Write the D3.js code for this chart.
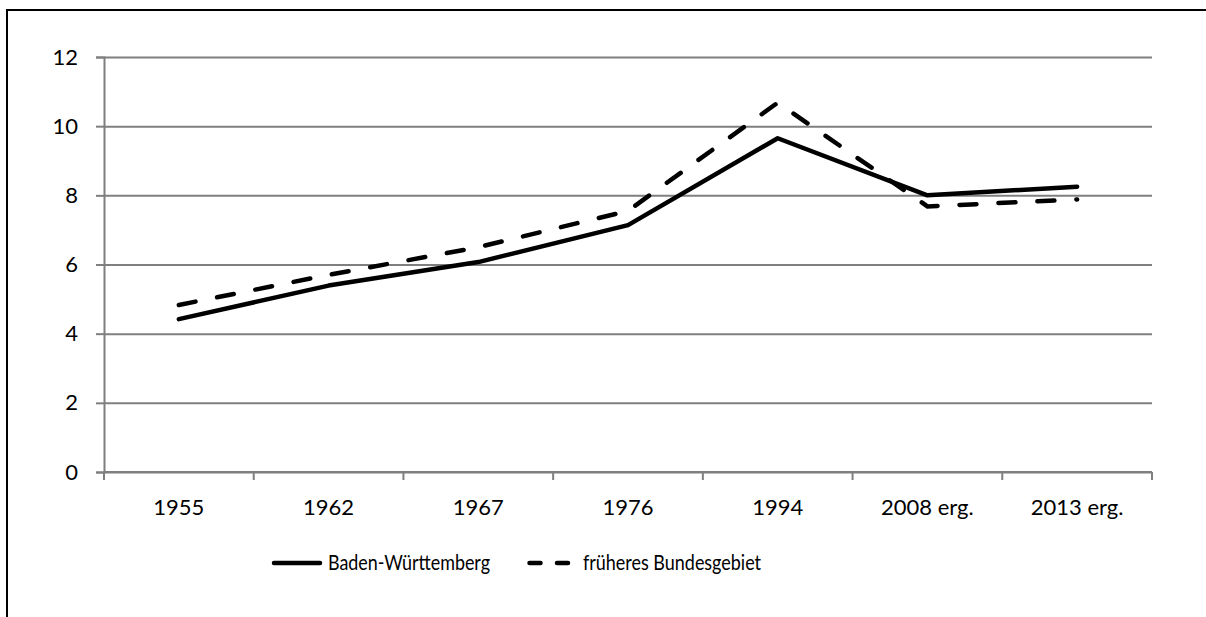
<!DOCTYPE html>
<html>
<head>
<meta charset="utf-8">
<script src="https://cdn.jsdelivr.net/npm/d3@7"></script>
<style>
  body { margin: 0; background: #fff; }
  svg text { font-family: Lato, "Open Sans", sans-serif; fill: #000; }
</style>
</head>
<body>
<svg class="chart" width="1206" height="617"></svg>
<script>
const categories = ['1955', '1962', '1967', '1976', '1994', '2008 erg.', '2013 erg.'];
const badenWuerttemberg = [4.42, 5.39, 6.07, 7.14, 9.65, 8.0, 8.25];
const fruehBundesgebiet = [4.83, 5.7, 6.5, 7.55, 10.68, 7.68, 7.88];
const yTicks = [0, 2, 4, 6, 8, 10, 12];
const seriesNames = ['Baden-Württemberg', 'früheres Bundesgebiet'];

const svg = d3.select('.chart');
const plotLeft = 104, plotRight = 1152, plotTop = 57, plotBottom = 472;

// frame (only top and left edge visible)
svg.append('line').attr('x1', 7).attr('x2', 1206).attr('y1', 10).attr('y2', 10)
    .attr('stroke', '#000').attr('stroke-width', 2);
svg.append('line').attr('x1', 7).attr('x2', 7).attr('y1', 9).attr('y2', 617)
    .attr('stroke', '#000').attr('stroke-width', 2);

const x = d3.scaleBand().domain(categories).range([plotLeft, plotRight]);
const y = d3.scaleLinear().domain([0, 12]).range([plotBottom, plotTop]);

// y grid + axis
const yAxis = svg.append('g')
    .attr('transform', `translate(${plotLeft},0)`)
    .call(d3.axisLeft(y).tickValues(yTicks).tickSize(8).tickPadding(18));
yAxis.select('.domain').attr('stroke', '#7f7f7f').attr('stroke-width', 2);
yAxis.selectAll('.tick line').attr('stroke', '#7f7f7f').attr('stroke-width', 2);
yAxis.selectAll('.tick text').attr('font-size', 22).attr('font-family', 'Lato').attr('fill', '#000');
yAxis.selectAll('.tick').append('line')
    .attr('x1', 0).attr('x2', plotRight - plotLeft)
    .attr('stroke', '#7f7f7f').attr('stroke-width', 2);

// x axis with ticks between categories
const xAxis = svg.append('g').attr('transform', `translate(0,${plotBottom})`);
xAxis.append('line').attr('x1', plotLeft).attr('x2', plotRight)
    .attr('stroke', '#7f7f7f').attr('stroke-width', 2);
const bounds = categories.map(c => x(c)).concat([plotRight]);
xAxis.selectAll('line.tk').data(bounds).enter().append('line')
    .attr('class', 'tk')
    .attr('x1', d => d).attr('x2', d => d).attr('y1', 0).attr('y2', 8)
    .attr('stroke', '#7f7f7f').attr('stroke-width', 2);
xAxis.selectAll('text').data(categories).enter().append('text')
    .attr('x', d => x(d) + x.bandwidth() / 2)
    .attr('y', 43)
    .attr('text-anchor', 'middle')
    .attr('font-size', 22)
    .text(d => d);

const line = d3.line()
    .x((d, i) => x(categories[i]) + x.bandwidth() / 2)
    .y(d => y(d));

svg.append('path').datum(badenWuerttemberg)
    .attr('d', line).attr('fill', 'none')
    .attr('stroke', '#000').attr('stroke-width', 4.5)
    .attr('stroke-linecap', 'round').attr('stroke-linejoin', 'round');

svg.append('path').datum(fruehBundesgebiet)
    .attr('d', line).attr('fill', 'none')
    .attr('stroke', '#000').attr('stroke-width', 4.5)
    .attr('stroke-dasharray', '17 22')
    .attr('stroke-linecap', 'round');

// legend
const legend = svg.append('g');
legend.append('line').attr('x1', 274).attr('x2', 320).attr('y1', 563).attr('y2', 563)
    .attr('stroke', '#000').attr('stroke-width', 4.5).attr('stroke-linecap', 'round');
legend.append('text').attr('x', 328).attr('y', 570).attr('font-size', 21)
    .attr('textLength', 162).attr('lengthAdjust', 'spacingAndGlyphs')
    .text(seriesNames[0]);
legend.append('line').attr('x1', 529.5).attr('x2', 570).attr('y1', 563).attr('y2', 563)
    .attr('stroke', '#000').attr('stroke-width', 4.5)
    .attr('stroke-dasharray', '11 16.5').attr('stroke-linecap', 'round');
legend.append('text').attr('x', 583).attr('y', 570).attr('font-size', 21)
    .attr('textLength', 178).attr('lengthAdjust', 'spacingAndGlyphs')
    .text(seriesNames[1]);
</script>
</body>
</html>
